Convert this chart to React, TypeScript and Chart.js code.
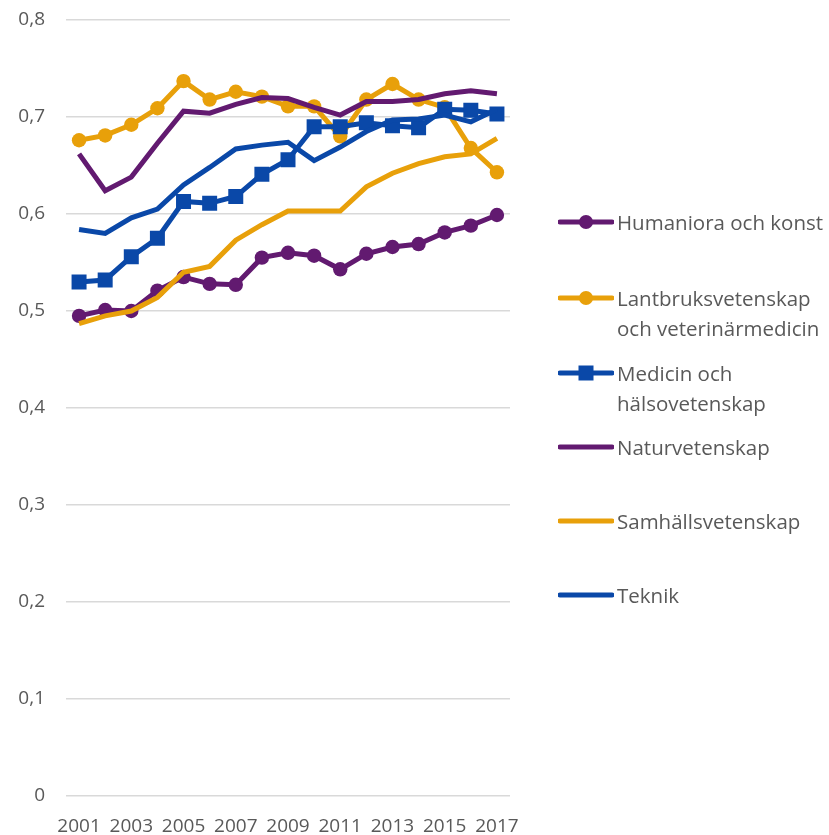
import React, { useEffect, useRef } from "react";
import { Chart, registerables } from "chart.js";

Chart.register(...registerables);

const years = ["2001","2002","2003","2004","2005","2006","2007","2008","2009","2010","2011","2012","2013","2014","2015","2016","2017"];

const humaniora = [0.495, 0.501, 0.500, 0.521, 0.535, 0.528, 0.527, 0.555, 0.560, 0.557, 0.543, 0.559, 0.566, 0.569, 0.581, 0.588, 0.599];
const lantbruk = [0.676, 0.681, 0.692, 0.709, 0.737, 0.718, 0.726, 0.721, 0.711, 0.711, 0.680, 0.718, 0.734, 0.718, 0.710, 0.668, 0.643];
const medicin = [0.530, 0.532, 0.556, 0.575, 0.613, 0.611, 0.618, 0.641, 0.656, 0.690, 0.690, 0.694, 0.691, 0.689, 0.708, 0.707, 0.703];
const natur = [0.662, 0.624, 0.638, 0.673, 0.706, 0.704, 0.713, 0.720, 0.719, 0.710, 0.702, 0.716, 0.716, 0.718, 0.724, 0.727, 0.724];
const samhalls = [0.487, 0.495, 0.500, 0.514, 0.540, 0.546, 0.573, 0.589, 0.603, 0.603, 0.603, 0.628, 0.642, 0.652, 0.659, 0.662, 0.678];
const teknik = [0.584, 0.580, 0.596, 0.605, 0.630, 0.648, 0.667, 0.671, 0.674, 0.655, 0.669, 0.685, 0.697, 0.698, 0.702, 0.695, 0.708];

const PURPLE = "#621A70";
const ORANGE = "#E8A00A";
const BLUE = "#0A48A8";
const TEXT = "#595959";
const FONT = "'Open Sans', sans-serif";

const legendItems = [
  { lines: ["Humaniora och konst"], color: PURPLE, marker: "circle", y: 222 },
  { lines: ["Lantbruksvetenskap", "och veterinärmedicin"], color: ORANGE, marker: "circle", y: 298 },
  { lines: ["Medicin och", "hälsovetenskap"], color: BLUE, marker: "square", y: 373 },
  { lines: ["Naturvetenskap"], color: PURPLE, marker: "none", y: 447 },
  { lines: ["Samhällsvetenskap"], color: ORANGE, marker: "none", y: 521 },
  { lines: ["Teknik"], color: BLUE, marker: "none", y: 595 },
];

export default function App() {
  const ref = useRef<HTMLCanvasElement | null>(null);

  useEffect(() => {
    if (!ref.current) return;
    const mk = (label: string, data: number[], color: string, style: any, radius: number, order: number) => ({
      label,
      data,
      borderColor: color,
      backgroundColor: color,
      borderWidth: 5,
      pointStyle: style,
      pointRadius: radius,
      pointBorderWidth: 0,
      pointBackgroundColor: color,
      tension: 0,
      order,
    });
    const chart = new Chart(ref.current, {
      type: "line",
      data: {
        labels: years,
        datasets: [
          mk("Humaniora och konst", humaniora, PURPLE, "circle", 7.2, 5),
          mk("Lantbruksvetenskap och veterinärmedicin", lantbruk, ORANGE, "circle", 7.2, 4),
          mk("Medicin och hälsovetenskap", medicin, BLUE, "rect", 10.6, 3),
          mk("Naturvetenskap", natur, PURPLE, false, 0, 2),
          mk("Samhällsvetenskap", samhalls, ORANGE, false, 0, 1),
          mk("Teknik", teknik, BLUE, false, 0, 0),
        ],
      },
      options: {
        animation: false,
        responsive: false,
        maintainAspectRatio: false,
        layout: { padding: { top: 20, right: 319, left: 0, bottom: 0 } },
        plugins: { legend: { display: false }, tooltip: { enabled: false } },
        scales: {
          x: {
            offset: true,
            grid: { display: false, drawTicks: false },
            border: { display: false },
            ticks: {
              autoSkip: false,
              maxRotation: 0,
              minRotation: 0,
              padding: 19,
              color: TEXT,
              font: { family: FONT, size: 19 },
              callback: (v: any, i: number) => (i % 2 === 0 ? years[i] : ""),
            },
            afterFit: (s: any) => { s.height = 39; s.paddingLeft = 0; s.paddingRight = 0; },
          },
          y: {
            min: 0,
            max: 0.8,
            grid: { color: "#D9D9D9", lineWidth: 1.5, drawTicks: false },
            border: { display: false },
            ticks: {
              stepSize: 0.1,
              padding: 21,
              color: TEXT,
              font: { family: FONT, size: 19 },
              callback: (v: any) => (v === 0 ? "0" : Number(v).toFixed(1).replace(".", ",")),
            },
            afterFit: (s: any) => { s.width = 66; s.paddingTop = 0; s.paddingBottom = 0; },
          },
        },
      },
    });
    return () => chart.destroy();
  }, []);

  return (
    <div style={{ position: "absolute", left: 0, top: 0, width: 829, height: 835, background: "#fff" }}>
      <canvas ref={ref} width={829} height={835} style={{ position: "absolute", left: 0, top: 0, width: 829, height: 835 }} />
      {legendItems.map((it, i) => (
        <div key={i} style={{ position: "absolute", left: 558, top: it.y - 15, height: 30 }}>
          <svg width={56} height={30} style={{ position: "absolute", left: 0, top: 0 }}>
            <line x1={2} y1={15} x2={54} y2={15} stroke={it.color} strokeWidth={5} strokeLinecap="round" />
            {it.marker === "circle" && <circle cx={28} cy={15} r={7} fill={it.color} />}
            {it.marker === "square" && <rect x={20.5} y={7.5} width={15} height={15} fill={it.color} />}
          </svg>
          <div style={{ position: "absolute", left: 59, top: 0, fontFamily: FONT, fontSize: 20.5, color: TEXT, lineHeight: "30px", whiteSpace: "nowrap" }}>
            {it.lines.map((l, j) => (<div key={j}>{l}</div>))}
          </div>
        </div>
      ))}
    </div>
  );
}
